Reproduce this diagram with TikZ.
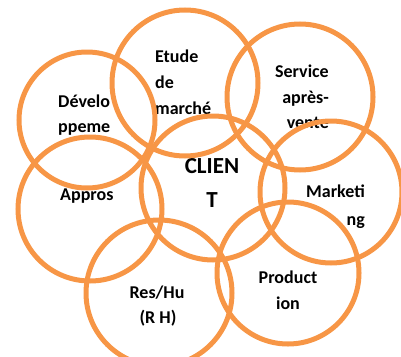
\documentclass[tikz,border=0pt]{standalone}
\usepackage{fontspec}
\setmainfont{Carlito}
\definecolor{ringc}{HTML}{F79646}
\begin{document}
\begin{tikzpicture}[x=1pt,y=-1pt,
  ring/.style={draw=ringc, line width=5pt},
  lbl/.style={font=\bfseries\fontsize{18}{22}\selectfont, inner sep=0pt},
  big/.style={font=\bfseries\fontsize{23}{28}\selectfont, inner sep=0pt}]
\useasboundingbox (0,0) rectangle (401,356);
% texts
\node[lbl, anchor=base west] (e1) at (155,62) {Etude};
\node[lbl, anchor=base west] (e2) at (155,88) {de};
\node[lbl, anchor=base west] (e3) at (155,114) {marché};
\node[lbl, anchor=base west] (d1) at (58,107) {Dévelo};
\node[lbl, anchor=base west] (d2) at (58,132) {ppeme};
\node[lbl, anchor=base west] (a1) at (60,200) {Appros};
\node[big, anchor=base] (c1) at (212,173) {CLIEN};
\node[big, anchor=base] (c2) at (212,207) {T};
\node[lbl, anchor=base east] (s1) at (329,77) {Service};
\node[lbl, anchor=base east] (s2) at (329,103) {après-};
\node[lbl, anchor=base east] (s3) at (329,128) {vente};
\node[lbl, anchor=base east] (m1) at (365,197) {Marketi};
\node[lbl, anchor=base east] (m2) at (365,225) {ng};
\node[lbl, anchor=base] (p1) at (288,283) {Product};
\node[lbl, anchor=base] (p2) at (288,309) {ion};
\node[lbl, anchor=base] (r1) at (157,298) {Res/Hu};
\node[lbl, anchor=base] (r2) at (158,323) {(R H)};
% rings
\draw[ring] (87,120) circle (68);
\draw[ring] (185,83) circle (73);
\draw[ring] (300,97) circle (73);
\draw[ring] (90,209) circle (72);
\draw[ring] (213,188) circle (72);
\draw[ring] (331,192) circle (71);
\draw[ring] (159,293) circle (73);
\draw[ring] (288,273) circle (71);
\end{tikzpicture}
\end{document}
